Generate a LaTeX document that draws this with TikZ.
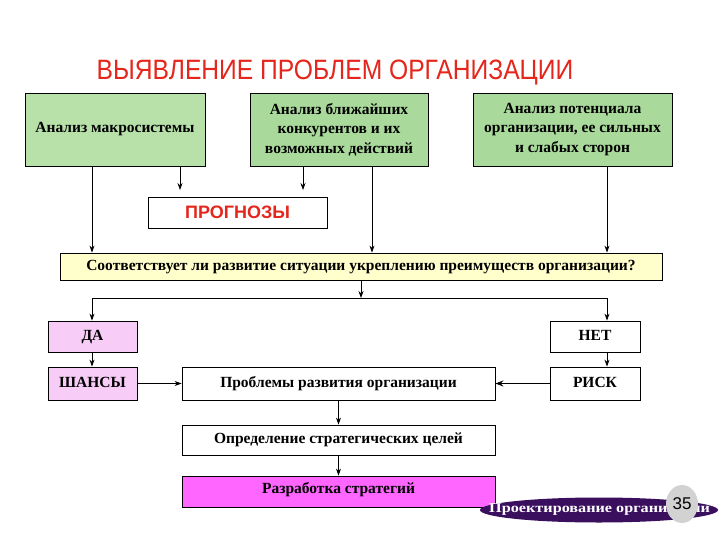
\documentclass[tikz,border=0pt]{standalone}
\usepackage{fontspec}
\setmainfont{Liberation Serif}
\newfontfamily\sansf{Liberation Sans}
\usetikzlibrary{arrows.meta,shapes.geometric}
\definecolor{gA}{HTML}{B8E1AA}
\definecolor{gB}{HTML}{A9D99B}
\definecolor{ylw}{HTML}{FFFFCC}
\definecolor{pnk}{HTML}{F7CDF7}
\definecolor{mag}{HTML}{FF66FF}
\definecolor{ttl}{HTML}{E4261C}
\definecolor{purp}{HTML}{3A0F5E}
\definecolor{gry}{HTML}{D2D2D2}
\tikzset{
  bx/.style={draw=black, line width=0.8pt, inner sep=2pt, align=center, font=\bfseries\fontsize{15.5}{19.5}\selectfont},
  one/.style={text height=10.5pt, text depth=3pt},
  arr/.style={-{Stealth[length=7pt,width=5pt]}, line width=0.8pt},
}
\begin{document}
\begin{tikzpicture}[x=1pt,y=-1pt]
\useasboundingbox (0,0) rectangle (720,540);
\fill[white] (0,0) rectangle (720,540);
\node[text=ttl, font=\sansf\fontsize{28}{30}\selectfont, xscale=0.88] (title) at (335,73) {ВЫЯВЛЕНИЕ ПРОБЛЕМ ОРГАНИЗАЦИИ};
\node[bx, fill=gA, minimum width=180pt, minimum height=73pt] (b1) at (115,129.5) {Анализ макросистемы};
\node[bx, fill=gB, minimum width=178pt, minimum height=73pt] (b2) at (339,129.5) {Анализ ближайших\\конкурентов и их\\возможных действий};
\node[bx, fill=gB, minimum width=199pt, minimum height=73pt] (b3) at (572.5,129.5) {Анализ потенциала\\организации, ее сильных\\и слабых сторон};
\node[bx, fill=white, minimum width=179pt, minimum height=31pt, text=ttl, font=\sansf\bfseries\fontsize{18}{22}\selectfont] (pr) at (237.5,212.5) {ПРОГНОЗЫ};
\node[bx, one, fill=ylw, minimum width=602pt, minimum height=27pt] (q) at (361,266.5) {Соответствует ли развитие ситуации укреплению преимуществ организации?};
\node[bx, one, fill=pnk, minimum width=89pt, minimum height=31pt] (da) at (92.5,336.5) {ДА};
\node[bx, one, fill=white, minimum width=90pt, minimum height=31pt] (net) at (595,336.5) {НЕТ};
\node[bx, one, fill=pnk, minimum width=89pt, minimum height=33pt] (sh) at (92.5,383.5) {ШАНСЫ};
\node[bx, one, fill=white, minimum width=90pt, minimum height=33pt] (risk) at (595,383.5) {РИСК};
\node[bx, one, fill=white, minimum width=313pt, minimum height=33pt] (prob) at (338.5,383.5) {Проблемы развития организации};
\node[bx, one, fill=white, minimum width=313pt, minimum height=30pt] (opr) at (338.5,440) {Определение стратегических целей};
\node[bx, one, fill=mag, minimum width=313pt, minimum height=31pt] (raz) at (338.5,491.5) {\raisebox{2pt}{Разработка стратегий}};
% coordinates
\coordinate (x1) at (92,190);
\coordinate (s1) at (180,190);
\coordinate (s2) at (303,190);
\coordinate (x2) at (372,190);
\coordinate (x3) at (607,190);
\coordinate (m) at (361,298);
\coordinate (hl) at (92,298);
\coordinate (hr) at (607,298);
\draw[arr] (b1.south -| x1) -- (q.north -| x1);
\draw[arr] (b1.south -| s1) -- (s1);
\draw[arr] (b2.south -| s2) -- (s2);
\draw[arr] (b2.south -| x2) -- (q.north -| x2);
\draw[arr] (b3.south -| x3) -- (q.north -| x3);
\draw[arr] (q.south -| m) -- (m);
\draw[line width=0.8pt] (hl) -- (hr);
\draw[arr] (hl) -- (da.north -| hl);
\draw[arr] (hr) -- (net.north -| hr);
\draw[arr] (da.south -| hl) -- (sh.north -| hl);
\draw[arr] (net.south -| hr) -- (risk.north -| hr);
\draw[arr] (sh.east) -- (prob.west);
\draw[-{Stealth[length=8pt,width=6pt]}, line width=1.8pt] (risk.west) -- (prob.east);
\draw[arr] (prob.south) -- (opr.north);
\draw[arr] (opr.south) -- (raz.north);
% footer
\node[ellipse, fill=purp, minimum width=238pt, minimum height=25pt, inner sep=0pt] (ell) at (599,510) {};
\node[text=white, font=\bfseries\fontsize{13.5}{15}\selectfont, xscale=1.2, anchor=west, inner sep=0pt] (ft) at (489,510) {Проектирование организации};
\node[ellipse, fill=gry, minimum width=32pt, minimum height=38pt, inner sep=0pt, font=\sansf\fontsize{17}{19}\selectfont] (pg) at (682,504) {35};
\end{tikzpicture}
\end{document}
